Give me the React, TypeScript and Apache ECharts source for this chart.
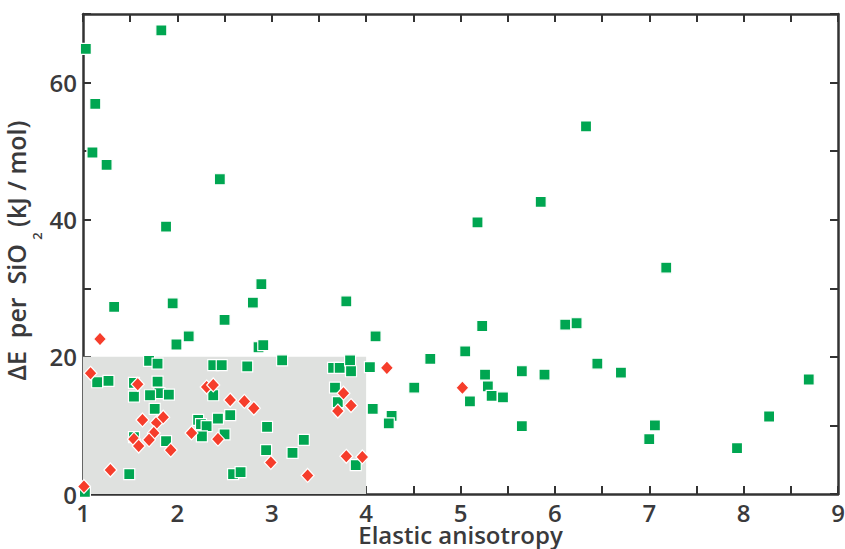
import React, { useEffect, useRef } from "react";
import * as echarts from "echarts";

const xTicks = [1, 2, 3, 4, 5, 6, 7, 8, 9];
const yTicks = [0, 20, 40, 60];
const xTitle = "Elastic anisotropy";
const yTitleParts = ["ΔE  per  SiO", "2", "(kJ / mol)"];

const greenPoints: [number, number][] = [
  [1.03, 64.9], [1.83, 67.6], [1.13, 56.9], [1.10, 49.8], [1.25, 48.0], [2.45, 45.9],
  [1.88, 39.0], [6.33, 53.6], [5.85, 42.6], [5.18, 39.6], [7.18, 33.0], [2.89, 30.6],
  [1.95, 27.8], [1.33, 27.3], [2.80, 27.9], [3.79, 28.1], [2.50, 25.4], [5.23, 24.5],
  [6.11, 24.7], [6.23, 24.9], [2.12, 23.0], [4.10, 23.0], [1.99, 21.8], [2.86, 21.4],
  [2.91, 21.7], [5.05, 20.8], [4.68, 19.7], [3.11, 19.5], [1.70, 19.4], [1.79, 19.0],
  [2.38, 18.8], [2.47, 18.8], [2.74, 18.6], [3.65, 18.4], [3.72, 18.4], [3.83, 19.5],
  [3.84, 17.9], [4.04, 18.5], [6.45, 19.0], [5.65, 17.9], [6.70, 17.7], [5.26, 17.4],
  [5.89, 17.4], [8.69, 16.7], [1.15, 16.3], [1.27, 16.5], [1.79, 16.4], [1.54, 16.2],
  [4.51, 15.5], [5.29, 15.7], [3.67, 15.5], [1.81, 14.7], [1.71, 14.4], [1.91, 14.5],
  [1.54, 14.2], [2.38, 14.4], [5.33, 14.3], [5.45, 14.1], [5.10, 13.5], [3.70, 13.4],
  [1.76, 12.4], [4.07, 12.4], [2.56, 11.5], [2.43, 11.0], [2.22, 10.8], [2.25, 10.2],
  [2.31, 9.9], [4.27, 11.4], [4.24, 10.3], [8.27, 11.3], [2.95, 9.8], [5.65, 9.9],
  [7.06, 10.0], [2.50, 8.7], [2.26, 8.4], [1.88, 7.7], [3.34, 7.9], [7.00, 8.0],
  [2.94, 6.4], [3.22, 6.0], [7.93, 6.7], [3.89, 4.2], [1.49, 2.9], [2.59, 2.9],
  [2.67, 3.2], [1.02, 0.3], [1.54, 8.3],
];

const redPoints: [number, number][] = [
  [1.18, 22.6], [1.08, 17.6], [1.58, 16.0], [2.31, 15.6], [2.38, 15.9], [2.56, 13.7],
  [2.71, 13.5], [2.81, 12.5], [1.63, 10.8], [1.78, 10.4], [1.85, 11.2], [1.75, 8.9],
  [1.54, 8.0], [1.70, 7.9], [1.59, 7.0], [2.15, 8.9], [2.43, 8.0], [1.93, 6.4],
  [1.29, 3.5], [1.01, 1.1], [3.76, 14.7], [3.84, 12.9], [3.70, 12.1], [2.99, 4.6],
  [3.38, 2.7], [3.79, 5.5], [3.96, 5.4], [4.22, 18.4], [5.02, 15.5],
];

const shadedRegion = { x: [1, 4], y: [0, 20] };

const FONT = "'Open Sans', sans-serif";
const AXIS_COLOR = "#333333";
const TEXT_COLOR = "#3a3a3c";

export default function App() {
  const ref = useRef<HTMLDivElement>(null);

  useEffect(() => {
    if (!ref.current) return;
    const chart = echarts.init(ref.current, undefined, { renderer: "svg" });

    const axisLine = { show: true, onZero: false, lineStyle: { color: AXIS_COLOR, width: 2.5 } };
    const axisTick = { show: true, inside: true, length: 8, lineStyle: { color: AXIS_COLOR, width: 2 } };

    const xBase = {
      type: "value" as const,
      min: 1,
      max: 9,
      interval: 0.5,
      splitLine: { show: false },
      axisLine,
      axisTick,
    };
    const yBase = {
      type: "value" as const,
      min: 0,
      max: 70,
      interval: 10,
      splitLine: { show: false },
      axisLine,
      axisTick,
    };

    const titleStyle = (size: number) => ({
      fontFamily: FONT,
      fontSize: size,
      fontWeight: 600,
      fill: TEXT_COLOR,
      verticalAlign: "middle" as const,
    });

    chart.setOption({
      animation: false,
      backgroundColor: "#ffffff",
      grid: {
        left: 83,
        right: 7,
        top: 14,
        bottom: 55,
        containLabel: false,
        outerBoundsMode: "none",
      },
      graphic: [
        {
          type: "text",
          x: 16,
          y: 244,
          rotation: Math.PI / 2,
          silent: true,
          style: { ...titleStyle(25), text: yTitleParts[0], align: "right" },
        },
        {
          type: "text",
          x: 37,
          y: 236,
          rotation: Math.PI / 2,
          silent: true,
          style: { ...titleStyle(13), text: yTitleParts[1], align: "center" },
        },
        {
          type: "text",
          x: 16,
          y: 227,
          rotation: Math.PI / 2,
          silent: true,
          style: { ...titleStyle(25), text: yTitleParts[2], align: "left" },
        },
      ],
      xAxis: [
        {
          ...xBase,
          position: "bottom",
          name: xTitle,
          nameLocation: "middle",
          nameGap: 29,
          nameMoveOverlap: false,
          nameTextStyle: {
            fontFamily: FONT,
            fontWeight: 600,
            color: TEXT_COLOR,
            fontSize: 24,
            lineHeight: 22,
          },
          axisLabel: {
            fontFamily: FONT,
            fontSize: 24,
            lineHeight: 20,
            fontWeight: 600,
            color: TEXT_COLOR,
            margin: 8,
            formatter: (v: number) => (xTicks.includes(v) ? String(v) : ""),
          },
        },
        { ...xBase, position: "top", axisLabel: { show: false } },
      ],
      yAxis: [
        {
          ...yBase,
          position: "left",
          axisLabel: {
            fontFamily: FONT,
            fontSize: 24,
            fontWeight: 600,
            color: TEXT_COLOR,
            margin: 6,
            formatter: (v: number) => (yTicks.includes(v) ? String(v) : ""),
          },
        },
        { ...yBase, position: "right", axisLabel: { show: false } },
      ],
      series: [
        {
          type: "scatter",
          xAxisIndex: 0,
          yAxisIndex: 0,
          data: [],
          markArea: {
            silent: true,
            itemStyle: { color: "#dfe1df" },
            data: [
              [
                { coord: [shadedRegion.x[0], shadedRegion.y[0]] },
                { coord: [shadedRegion.x[1], shadedRegion.y[1]] },
              ],
            ],
          },
        },
        {
          type: "scatter",
          xAxisIndex: 0,
          yAxisIndex: 0,
          symbol: "rect",
          symbolSize: 11,
          data: greenPoints,
          itemStyle: { color: "#00a651", borderColor: "#ffffff", borderWidth: 1.2, opacity: 1 },
        },
        {
          type: "scatter",
          xAxisIndex: 0,
          yAxisIndex: 0,
          symbol: "diamond",
          symbolSize: [13, 14],
          data: redPoints,
          itemStyle: { color: "#f63d2b", borderColor: "#ffffff", borderWidth: 1.2, opacity: 1 },
        },
      ],
    });

    return () => chart.dispose();
  }, []);

  return (
    <div
      ref={ref}
      style={{ position: "fixed", left: 0, top: 0, width: 845, height: 549, background: "#fff" }}
    />
  );
}
